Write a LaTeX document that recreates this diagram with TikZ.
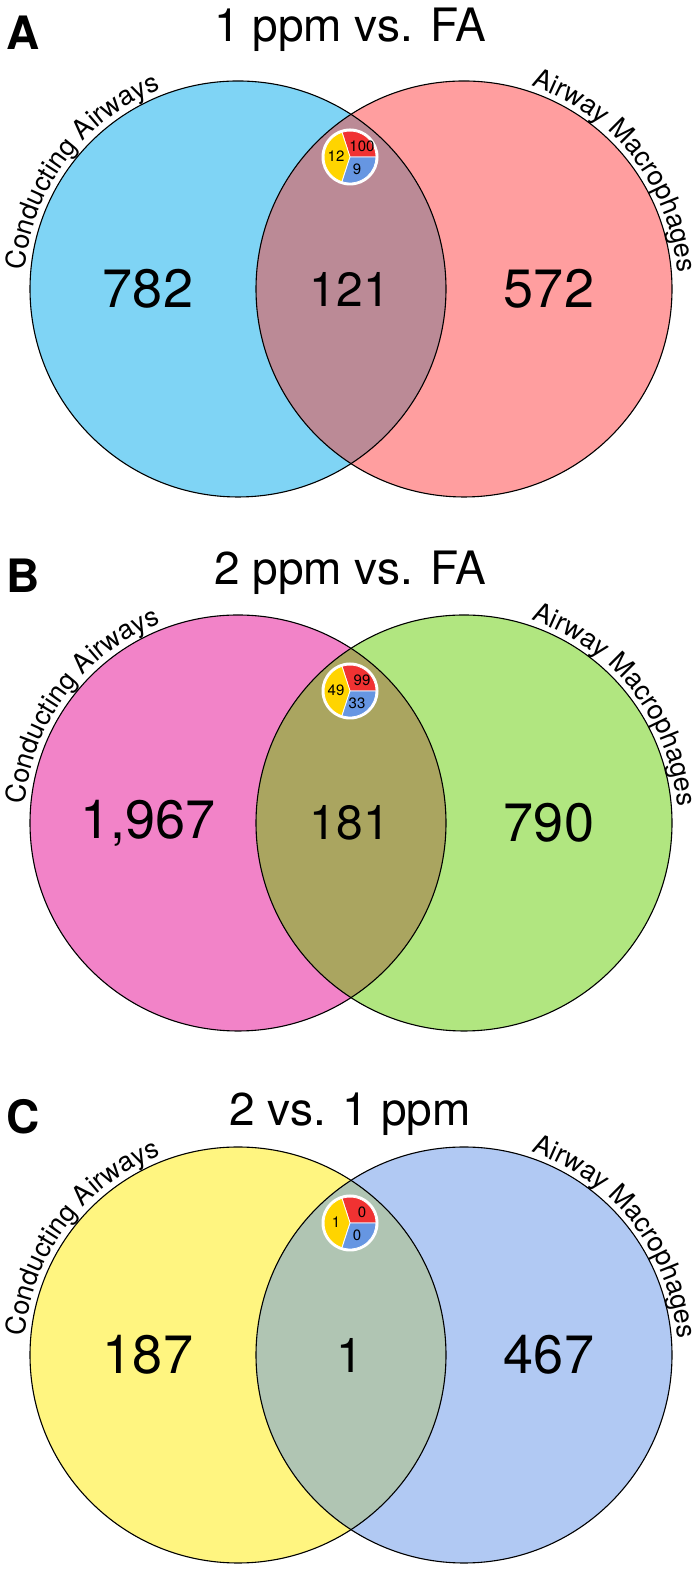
\documentclass[tikz,border=0pt]{standalone}
\usepackage{fontspec}
\setmainfont{TeX Gyre Heros}
\usetikzlibrary{decorations.text}

% circle colours per panel
\definecolor{leftA}{HTML}{7FD4F5}
\definecolor{rightA}{HTML}{FF9E9F}
\definecolor{lensA}{HTML}{BB8A96}
\definecolor{leftB}{HTML}{F283C8}
\definecolor{rightB}{HTML}{B1E680}
\definecolor{lensB}{HTML}{AAA560}
\definecolor{leftC}{HTML}{FFF580}
\definecolor{rightC}{HTML}{B1C9F3}
\definecolor{lensC}{HTML}{B0C5B3}
% pie colours
\definecolor{pieRed}{HTML}{F03232}
\definecolor{pieYellow}{HTML}{FFD400}
\definecolor{pieBlue}{HTML}{6696E2}

\newcommand{\arcfont}{\fontsize{27}{27}\selectfont}

\newcommand{\vennpanel}[9]{% y, panel, letter offset, left, middle, right, red, yellow, blue
  \begin{scope}[shift={(0,#1)}]
    % circles, lens on top
    \fill[left#2] (238,0) circle[radius=208pt];
    \fill[right#2] (464,0) circle[radius=208pt];
    \begin{scope}
      \clip (238,0) circle[radius=208pt];
      \fill[lens#2] (464,0) circle[radius=208pt];
    \end{scope}
    \draw[line width=1.1pt] (238,0) circle[radius=208pt];
    \draw[line width=1.1pt] (464,0) circle[radius=208pt];
    % set names along the outside of the circles
    \path[decorate, decoration={text along path, text align=center,
        text={|\arcfont|Conducting Airways}}]
      (238,0) ++(203:214pt) arc[start angle=203, end angle=83, radius=214pt];
    \path[decorate, decoration={text along path, text align=center,
        text={|\arcfont|Airway Macrophages}}]
      (464,0) ++(98:214pt) arc[start angle=98, end angle=-22, radius=214pt];
    % panel letter
    \node[letter, anchor=base west] (letter#2) at (6,#3) {#2};
    % counts
    \node[count] (left#2) at (148,0) {#4};
    \node[midcount] (mid#2) at (350,0) {#5};
    \node[count] (right#2) at (549,0) {#6};
    % small pie in the overlap
    \begin{scope}[shift={(350,132)}]
      \fill[white] (0,0) circle[radius=28.5pt];
      \filldraw[fill=pieRed, wedge] (0,0) -- (0:26pt) arc[start angle=0, end angle=108, radius=26pt] -- cycle;
      \filldraw[fill=pieYellow, wedge] (0,0) -- (108:26pt) arc[start angle=108, end angle=252, radius=26pt] -- cycle;
      \filldraw[fill=pieBlue, wedge] (0,0) -- (252:26pt) arc[start angle=252, end angle=360, radius=26pt] -- cycle;
      \node[pienum] (red#2) at (12,11) {#7};
      \node[pienum] (yellow#2) at (-14,1) {#8};
      \node[pienum] (blue#2) at (7,-12) {#9};
    \end{scope}
  \end{scope}
}

\begin{document}
\begin{tikzpicture}[
    x=1pt, y=1pt,
    title/.style={inner sep=0pt, font=\fontsize{46}{46}\selectfont},
    letter/.style={inner sep=0pt, font=\fontsize{46}{46}\selectfont\bfseries},
    count/.style={inner sep=0pt, font=\fontsize{54}{54}\selectfont},
    midcount/.style={inner sep=0pt, font=\fontsize{48}{48}\selectfont},
    pienum/.style={inner sep=0pt, font=\fontsize{15}{15}\selectfont},
    wedge/.style={draw=white, line width=0.8pt}
  ]
\useasboundingbox (0,0) rectangle (700,1574);

% =================== (A) 1 ppm vs. FA ===================
\vennpanel{1285}{A}{239}{782}{121}{572}{100}{12}{9}
\node[title, anchor=base] (titleA) at (350,1532) {1 ppm vs. FA};

% =================== (B) 2 ppm vs. FA ===================
\vennpanel{751}{B}{230}{1,967}{181}{790}{99}{49}{33}
\node[title, anchor=base] (titleB) at (350,989) {2 ppm vs. FA};

% =================== (C) 2 vs. 1 ppm ===================
\vennpanel{219}{C}{221}{187}{1}{467}{0}{1}{0}
\node[title, anchor=base] (titleC) at (350,448) {2 vs. 1 ppm};

\end{tikzpicture}
\end{document}
